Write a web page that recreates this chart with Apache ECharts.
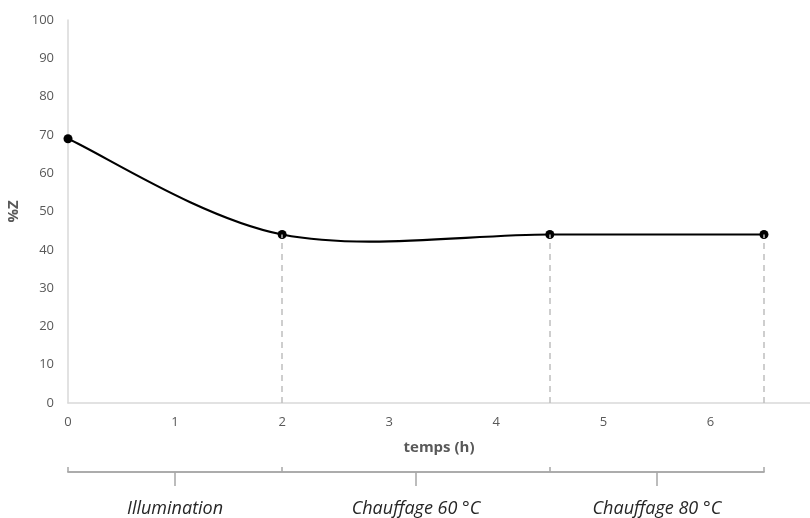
<!DOCTYPE html>
<html>
<head>
<meta charset="utf-8">
<script src="https://cdn.jsdelivr.net/npm/echarts@6/dist/echarts.min.js"></script>
<style>html,body{margin:0;padding:0;background:#fff}#c{width:810px;height:518px}</style>
</head>
<body>
<div id="c"></div>
<script>
// ---- data ----
const timeH = [0, 2, 4.5, 6.5];
const zPct = [69, 44, 44, 44];
const xTickLabels = [0, 1, 2, 3, 4, 5, 6];
const yTickLabels = [0, 10, 20, 30, 40, 50, 60, 70, 80, 90, 100];
const phaseNames = ['Illumination', 'Chauffage 60 °C', 'Chauffage 80 °C'];
const phaseBounds = [0, 2, 4.5, 6.5];

const phaseMids = phaseNames.map((n, i) => (phaseBounds[i] + phaseBounds[i + 1]) / 2);
const points = timeH.map((t, i) => [t, zPct[i]]);
const font = '"Open Sans", "Liberation Sans", sans-serif';
const xMax = 6.93;

// Smoothed curve (Catmull-Rom style Bezier, like a spreadsheet "smoothed line")
function renderSegment(params, api) {
  const i = params.dataIndex;
  const n = points.length;
  if (i >= n - 1) return null;
  const P = j => api.coord(points[Math.max(0, Math.min(n - 1, j))]);
  const p0 = P(i - 1), p1 = P(i), p2 = P(i + 1), p3 = P(i + 2);
  const k = 1 / 6;
  return {
    type: 'bezierCurve',
    shape: {
      x1: p1[0], y1: p1[1], x2: p2[0], y2: p2[1],
      cpx1: p1[0] + (p2[0] - p0[0]) * k, cpy1: p1[1] + (p2[1] - p0[1]) * k,
      cpx2: p2[0] - (p3[0] - p1[0]) * k, cpy2: p2[1] - (p3[1] - p1[1]) * k
    },
    style: {stroke: '#000000', lineWidth: 2.2, fill: null}
  };
}

const chart = echarts.init(document.getElementById('c'), null, {renderer: 'canvas'});
chart.setOption({
  animation: false,
  backgroundColor: '#ffffff',
  grid: [
    {left: 68, right: 0, top: 20, bottom: 115, outerBoundsMode: 'none', containLabel: false},
    {left: 68, right: 810 - 68 - (742 / xMax) * phaseBounds[phaseBounds.length - 1], top: 460, bottom: 46,
      outerBoundsMode: 'none', containLabel: false}
  ],
  xAxis: [
    {
      type: 'value', gridIndex: 0, min: 0, max: xMax, interval: 1,
      axisLine: {lineStyle: {color: '#d9d9d9', width: 1.5}},
      axisTick: {show: false},
      splitLine: {show: false},
      axisLabel: {color: '#595959', fontSize: 13, fontFamily: font, margin: 13,
        customValues: xTickLabels},
      name: 'temps (h)', nameLocation: 'middle', nameGap: 37,
      nameTextStyle: {color: '#595959', fontSize: 15, fontWeight: 'bold', fontFamily: font}
    },
    {
      type: 'value', gridIndex: 1, min: phaseBounds[0], max: phaseBounds[phaseBounds.length - 1],
      position: 'bottom',
      axisLine: {lineStyle: {color: '#a6a6a6', width: 1.5}},
      axisTick: {show: true, inside: true, length: 5, lineStyle: {color: '#a6a6a6', width: 1.5},
        customValues: phaseBounds},
      axisLabel: {show: false},
      splitLine: {show: false}
    },
    {
      type: 'value', gridIndex: 1, min: phaseBounds[0], max: phaseBounds[phaseBounds.length - 1],
      position: 'bottom',
      axisLine: {lineStyle: {color: '#a6a6a6', width: 1.5}},
      axisTick: {show: true, inside: false, length: 14, lineStyle: {color: '#a6a6a6', width: 1.5},
        customValues: phaseMids},
      axisLabel: {show: true, customValues: phaseMids, margin: 28, color: '#262626', fontSize: 18,
        fontStyle: 'italic', fontFamily: font,
        formatter: v => phaseNames[phaseMids.indexOf(v)] || ''},
      splitLine: {show: false}
    }
  ],
  yAxis: [
    {
      type: 'value', gridIndex: 0, min: 0, max: 100, interval: 10,
      axisLine: {show: true, lineStyle: {color: '#d9d9d9', width: 1.5}},
      axisTick: {show: false},
      splitLine: {show: false},
      axisLabel: {color: '#595959', fontSize: 13, fontFamily: font, margin: 14,
        customValues: yTickLabels},
      name: '%Z', nameLocation: 'middle', nameGap: 39, nameRotate: 90,
      nameTextStyle: {color: '#595959', fontSize: 15, fontWeight: 'bold', fontFamily: font}
    },
    {type: 'value', gridIndex: 1, min: 0, max: 1, show: false}
  ],
  series: [
    {
      type: 'custom', xAxisIndex: 0, yAxisIndex: 0,
      data: points,
      renderItem: renderSegment,
      silent: true,
      z: 3
    },
    {
      type: 'scatter', xAxisIndex: 0, yAxisIndex: 0,
      data: points,
      symbol: 'circle', symbolSize: 9,
      itemStyle: {color: '#000000', opacity: 1},
      z: 4,
      markLine: {
        silent: true, symbol: 'none', label: {show: false},
        lineStyle: {color: '#bfbfbf', type: [6, 5], width: 1.5},
        data: timeH.slice(1).map((t, i) => [{coord: [t, 0]}, {coord: [t, zPct[i + 1]]}])
      }
    }
  ]
});
</script>
</body>
</html>
